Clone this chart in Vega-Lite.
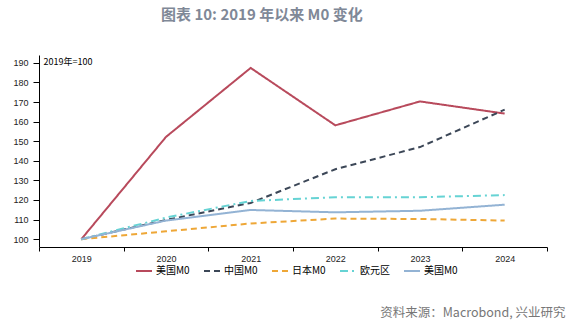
{
  "$schema": "https://vega.github.io/schema/vega-lite/v6.json",
  "autosize": "none",
  "width": 508,
  "height": 192,
  "padding": {"left": 39, "top": 55, "right": 19, "bottom": 76},
  "background": "white",
  "title": {
    "text": "图表 10: 2019 年以来 M0 变化",
    "anchor": "start",
    "frame": "group",
    "dx": 122,
    "offset": 32,
    "font": "Noto Sans CJK SC",
    "fontSize": 15,
    "fontWeight": "bold",
    "color": "#7f8897"
  },
  "config": {"view": {"stroke": null}},
  "data": {
    "values": [
      {"year": "2019", "s": "US", "v": 100},
      {"year": "2020", "s": "US", "v": 152.2},
      {"year": "2021", "s": "US", "v": 187.4},
      {"year": "2022", "s": "US", "v": 158.1},
      {"year": "2023", "s": "US", "v": 170.3},
      {"year": "2024", "s": "US", "v": 164.1},
      {"year": "2019", "s": "CN", "v": 100},
      {"year": "2020", "s": "CN", "v": 109.8},
      {"year": "2021", "s": "CN", "v": 118.5},
      {"year": "2022", "s": "CN", "v": 135.7},
      {"year": "2023", "s": "CN", "v": 147},
      {"year": "2024", "s": "CN", "v": 166.1},
      {"year": "2019", "s": "JP", "v": 100},
      {"year": "2020", "s": "JP", "v": 104},
      {"year": "2021", "s": "JP", "v": 108},
      {"year": "2022", "s": "JP", "v": 110.5},
      {"year": "2023", "s": "JP", "v": 110.3},
      {"year": "2024", "s": "JP", "v": 109.5},
      {"year": "2019", "s": "EU", "v": 100},
      {"year": "2020", "s": "EU", "v": 111},
      {"year": "2021", "s": "EU", "v": 119.5},
      {"year": "2022", "s": "EU", "v": 121.4},
      {"year": "2023", "s": "EU", "v": 121.4},
      {"year": "2024", "s": "EU", "v": 122.5},
      {"year": "2019", "s": "UK", "v": 100},
      {"year": "2020", "s": "UK", "v": 109.5},
      {"year": "2021", "s": "UK", "v": 114.9},
      {"year": "2022", "s": "UK", "v": 113.7},
      {"year": "2023", "s": "UK", "v": 114.5},
      {"year": "2024", "s": "UK", "v": 117.6}
    ]
  },
  "mark": {"type": "line", "strokeWidth": 2},
  "encoding": {
    "x": {
      "field": "year",
      "type": "ordinal",
      "bandPosition": 0.5,
      "scale": {"type": "band", "paddingInner": 0, "paddingOuter": 0},
      "axis": {
        "tickBand": "extent",
        "labelAngle": 0,
        "labelFont": "Liberation Sans",
        "labelFontSize": 9,
        "labelColor": "#222",
        "labelPadding": 3,
        "tickSize": 4,
        "tickColor": "#000",
        "domainColor": "#000",
        "grid": false,
        "title": "资料来源：Macrobond, 兴业研究",
        "titleX": 526,
        "titleY": 65,
        "titleAlign": "right",
        "titleBaseline": "middle",
        "titleFont": "Noto Sans CJK SC",
        "titleFontSize": 12.5,
        "titleFontWeight": "normal",
        "titleColor": "#777"
      }
    },
    "y": {
      "field": "v",
      "type": "quantitative",
      "scale": {"domain": [96, 194], "nice": false, "zero": false},
      "axis": {
        "values": [100, 110, 120, 130, 140, 150, 160, 170, 180, 190],
        "labelFont": "Liberation Sans",
        "labelFontSize": 9,
        "labelColor": "#222",
        "labelPadding": 5,
        "tickSize": 6,
        "tickColor": "#000",
        "domainColor": "#000",
        "grid": false,
        "title": "2019年=100",
        "titleAngle": 0,
        "titleAlign": "left",
        "titleBaseline": "middle",
        "titleX": 4,
        "titleY": 6,
        "titleFont": "Noto Sans CJK SC",
        "titleFontSize": 9,
        "titleFontWeight": "normal",
        "titleColor": "#000"
      }
    },
    "color": {
      "field": "s",
      "type": "nominal",
      "scale": {
        "domain": ["US", "CN", "JP", "EU", "UK"],
        "range": ["#b84a5c", "#3c4757", "#eea737", "#66d3d4", "#93b3d4"]
      },
      "legend": {
        "title": null,
        "orient": "none",
        "legendX": 96,
        "legendY": 207,
        "direction": "horizontal",
        "columns": 5,
        "symbolType": "stroke",
        "symbolSize": 256,
        "symbolStrokeWidth": 2,
        "labelFont": "Noto Sans CJK SC",
        "labelFontSize": 10,
        "labelColor": "#000",
        "labelOffset": 3,
        "columnPadding": 10,
        "labelExpr": "{'US':'美国M0','CN':'中国M0','JP':'日本M0','EU':'欧元区','UK':'美国M0'}[datum.value]"
      }
    },
    "strokeDash": {
      "field": "s",
      "type": "nominal",
      "scale": {
        "domain": ["US", "CN", "JP", "EU", "UK"],
        "range": [[1, 0], [6, 4], [6, 4], [8, 4, 2, 4], [1, 0]]
      },
      "legend": {
        "title": null,
        "orient": "none",
        "legendX": 96,
        "legendY": 207,
        "direction": "horizontal",
        "columns": 5,
        "symbolType": "stroke",
        "symbolSize": 256,
        "symbolStrokeWidth": 2,
        "labelFont": "Noto Sans CJK SC",
        "labelFontSize": 10,
        "labelColor": "#000",
        "labelOffset": 3,
        "columnPadding": 10,
        "labelExpr": "{'US':'美国M0','CN':'中国M0','JP':'日本M0','EU':'欧元区','UK':'美国M0'}[datum.value]"
      }
    }
  }
}
